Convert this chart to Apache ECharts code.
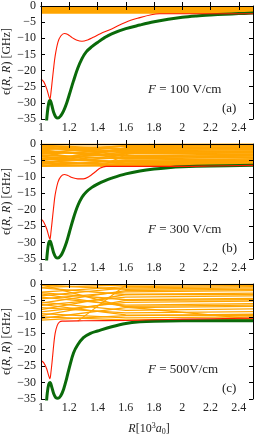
<!DOCTYPE html>
<html><head><meta charset="utf-8">
<script src="https://cdn.jsdelivr.net/npm/echarts@6/dist/echarts.min.js"></script>
<style>html,body{margin:0;padding:0;background:#fff}#c{width:255px;height:436px}</style>
</head><body><div id="c"></div>
<script>
// ---------- data ----------
const xTickValues = [1, 1.2, 1.4, 1.6, 1.8, 2, 2.2, 2.4];
const yTickValues = [0, -5, -10, -15, -20, -25, -30, -35];
const fieldValues = ['100 V/cm', '300 V/cm', '500V/cm'];
const panelTags = ['(a)', '(b)', '(c)'];

// red (thin) curves
const redA = [[1,-22.6],[1.02,-23.5],[1.04,-25.6],[1.055,-27.9],[1.063,-28.9],[1.07,-27],[1.08,-23],[1.09,-19],[1.1,-15.5],[1.12,-11.2],[1.14,-9.3],[1.165,-8.5],[1.19,-8.8],[1.22,-9.8],[1.25,-10.5],[1.29,-10.9],[1.33,-10.5],[1.37,-9.7],[1.42,-8.6],[1.5,-7.1],[1.6,-5.0],[1.7,-3.6],[1.78,-2.7],[1.84,-2.4],[2.0,-2.4],[2.5,-2.4]];
const redB = [[1,-22.8],[1.02,-23.8],[1.04,-25.8],[1.055,-28],[1.063,-29],[1.07,-27],[1.08,-23],[1.09,-19],[1.1,-15.5],[1.12,-11.6],[1.14,-9.9],[1.165,-9.3],[1.19,-9.6],[1.22,-10.2],[1.26,-10.6],[1.3,-10.6],[1.34,-9.9],[1.38,-8.6],[1.42,-7.3],[1.46,-6.8],[1.6,-6.8],[1.8,-6.8],[2.0,-6.8],[2.2,-6.7],[2.5,-6.5]];
const redC = [[1,-23.3],[1.02,-24],[1.04,-25.8],[1.055,-28],[1.063,-28.8],[1.07,-27],[1.08,-23],[1.09,-18.5],[1.1,-15],[1.115,-12.6],[1.13,-11.6],[1.15,-11.3],[1.3,-11.2],[1.6,-11.1],[1.8,-10.9],[2.0,-10.7],[2.5,-10.4]];

// green (thick) curves
const greenA = [[1.035,-38],[1.045,-33],[1.055,-30],[1.064,-29.2],[1.075,-30.5],[1.09,-33],[1.105,-34.4],[1.12,-34.7],[1.14,-34],[1.16,-32.5],[1.18,-30.3],[1.2,-27.5],[1.23,-23.2],[1.26,-19.3],[1.29,-16.3],[1.32,-14.2],[1.36,-12.6],[1.4,-11.3],[1.45,-9.8],[1.5,-8.6],[1.6,-7.0],[1.7,-5.9],[1.8,-4.9],[1.9,-4.1],[2.0,-3.5],[2.1,-3.1],[2.2,-2.8],[2.3,-2.55],[2.4,-2.35],[2.5,-2.2]];
const greenB = [[1.035,-38],[1.045,-33],[1.055,-30],[1.064,-29.5],[1.075,-30.8],[1.09,-33.2],[1.105,-34.5],[1.12,-34.7],[1.14,-34],[1.16,-32.3],[1.18,-30],[1.2,-27],[1.23,-22.5],[1.26,-18.8],[1.29,-16.2],[1.32,-14.6],[1.36,-13.2],[1.4,-12.2],[1.45,-11.2],[1.5,-10.4],[1.6,-9.1],[1.7,-8.2],[1.8,-7.6],[1.9,-7.2],[2.0,-6.95],[2.2,-6.7],[2.5,-6.5]];
const greenC = [[1.035,-38],[1.045,-33],[1.055,-30.5],[1.064,-30],[1.075,-31.2],[1.09,-33.4],[1.105,-34.6],[1.12,-34.8],[1.14,-34],[1.16,-32],[1.18,-29],[1.2,-25.5],[1.23,-21],[1.26,-18.5],[1.3,-16.3],[1.35,-15],[1.4,-14.3],[1.5,-13],[1.6,-12],[1.7,-11.5],[1.8,-11.3],[2.0,-11.2],[2.2,-11.2],[2.5,-11.2]];

// Stark manifold (orange)
const bandALevel = -2.4;
const manifoldR = [1, 1.6, 2.5];
const manifoldB = [
  [-0.2,-0.2,-0.1],[-1.6,-0.7,-0.5],[-0.4,-1.6,-1.3],[-3.0,-1.9,-1.8],[-1.2,-2.6,-2.2],
  [-4.4,-2.9,-2.7],[-2.2,-3.6,-3.1],[-5.6,-4.0,-3.6],[-3.4,-4.5,-4.0],[-6.6,-5.0,-4.5],
  [-4.6,-5.4,-4.9],[-6.0,-6.1,-5.4],[-5.2,-6.5,-5.8],[-6.7,-6.6,-6.3],[-0.8,-3.4,-6.6],[-6.2,-1.2,-0.9],
  [-2.8,-0.5,-0.3],[-5.0,-1.4,-1.0],[-0.6,-2.3,-2.5],[-1.9,-4.2,-3.4],[-3.8,-5.8,-5.1],[-2.6,-6.2,-6.0]
];
const manifoldC = [
  [-2.5,-0.8,-0.4],[-0.3,-1.6,-1.2],[-4.5,-2.4,-2.0],[-1.2,-3.2,-2.8],[-6.5,-4.0,-3.6],
  [-2.6,-4.8,-4.4],[-8.5,-5.6,-5.2],[-4.0,-6.4,-6.0],[-10.5,-7.2,-6.8],[-5.5,-8.0,-7.6],
  [-7.2,-8.8,-8.4],[-11.0,-9.6,-9.2],[-9.0,-10.3,-10.0],[-10.0,-10.9,-10.8],[-0.2,-7.0,-10.6],
  [-1.0,-0.3,-0.1],[-3.6,-1.2,-0.8],[-5.8,-2.0,-1.6],[-7.8,-3.2,-3.2],[-9.6,-5.0,-4.8],[-3.0,-6.8,-6.4],[-6.2,-9.4,-9.6]
];
const steepB = [[1.42,-6.8],[1.77,0]];
const steepC = [[1.26,-11.3],[1.61,0]];

// ---------- chart ----------
const FONT = 'Liberation Serif';
const TXT = '#222';
const ORANGE = '#FFA500';
const RED = '#FF1a00';
const GREEN = '#0a6a0a';
const tops = [4, 144, 284];
const H = 115, L = 41, W = 212;

const grid = [], xAxis = [], yAxis = [], series = [], graphic = [];
const fmtX = v => { const r = Math.round(v * 10) / 10; return String(r); };
const fmtY = v => { const r = Math.round(v); return r < 0 ? '\u2212' + (-r) : String(r); };

tops.forEach((t, i) => {
  grid.push({left: L, top: t, width: W, height: H, containLabel: false});
  const axLine = {show: true, lineStyle: {color: '#000', width: 1}};
  const tick = {show: true, inside: true, length: 4, lineStyle: {color: '#000', width: 1}};
  xAxis.push({type: 'value', gridIndex: i, min: 1, max: 2.5, interval: 0.2, position: 'bottom', z: 10,
    axisLine: axLine, axisTick: tick, splitLine: {show: false},
    axisLabel: {show: true, showMaxLabel: false, margin: 3, fontFamily: FONT, fontSize: 12, color: TXT, formatter: fmtX}});
  xAxis.push({type: 'value', gridIndex: i, min: 1, max: 2.5, interval: 0.2, position: 'top', z: 10,
    axisLine: axLine, axisTick: tick, splitLine: {show: false}, axisLabel: {show: false}});
  yAxis.push({type: 'value', gridIndex: i, min: -35, max: 0, interval: 5, position: 'left', z: 10,
    axisLine: axLine, axisTick: tick, splitLine: {show: false},
    axisLabel: {show: true, margin: 5, fontFamily: FONT, fontSize: 12, color: TXT, formatter: fmtY}});
  yAxis.push({type: 'value', gridIndex: i, min: -35, max: 0, interval: 5, position: 'right', z: 10,
    axisLine: axLine, axisTick: tick, splitLine: {show: false}, axisLabel: {show: false}});
});

const line = (i, data, color, width, z) => ({
  type: 'line', xAxisIndex: 2 * i, yAxisIndex: 2 * i, data, symbol: 'none', smooth: 0.35,
  lineStyle: {color, width}, z: z || 2, clip: true, silent: true, animation: false
});
const straight = (i, data, color, width, z) => Object.assign(line(i, data, color, width, z), {smooth: false});

// panel a band (solid)
series.push({type: 'line', xAxisIndex: 0, yAxisIndex: 0, data: [[1, bandALevel], [2.5, bandALevel]],
  symbol: 'none', lineStyle: {width: 0}, areaStyle: {color: ORANGE, opacity: 1, origin: 'end'}, z: 1, animation: false});
manifoldB.forEach(v => series.push(straight(1, manifoldR.map((r, k) => [r, v[k]]), ORANGE, 1.8, 1)));
manifoldC.forEach(v => series.push(straight(2, manifoldR.map((r, k) => [r, v[k]]), ORANGE, 1.3, 1)));
series.push(straight(1, steepB, ORANGE, 1.2, 1));
series.push(straight(2, steepC, ORANGE, 1.2, 1));

[redA, redB, redC].forEach((d, i) => series.push(line(i, d, RED, 1.1, 4)));
[greenA, greenB, greenC].forEach((d, i) => series.push(line(i, d, GREEN, 3, 3)));

tops.forEach((t, i) => {
  graphic.push({type: 'text', left: 148, top: t + 79, silent: true,
    style: {text: '{i|F} = ' + fieldValues[i], fontFamily: FONT, fontSize: 13, fill: TXT,
      rich: {i: {fontStyle: 'italic', fontFamily: FONT, fontSize: 13}}}});
  graphic.push({type: 'text', left: 222, top: t + 98, silent: true,
    style: {text: panelTags[i], fontFamily: FONT, fontSize: 13, fill: TXT}});
  graphic.push({type: 'text', x: 7, y: t + H / 2, rotation: Math.PI / 2, silent: true,
    style: {text: '\u03f5({i|R}, {i|R}) [GHz]', fontFamily: FONT, fontSize: 12, fill: TXT,
      align: 'center', verticalAlign: 'middle',
      rich: {i: {fontStyle: 'italic', fontFamily: FONT, fontSize: 12}}}});
});
graphic.push({type: 'text', x: 149, y: 429, silent: true,
  style: {text: '{i|R}[10{sup|3}{i|a}{sub|0}]', fontFamily: FONT, fontSize: 12, fill: TXT,
    align: 'center', verticalAlign: 'middle',
    rich: {i: {fontStyle: 'italic', fontFamily: FONT, fontSize: 12},
           sup: {fontFamily: FONT, fontSize: 8, padding: [0, 0, 7, 0]},
           sub: {fontFamily: FONT, fontSize: 8, padding: [5, 0, 0, 0]}}}});

const chart = echarts.init(document.getElementById('c'), null, {renderer: 'canvas'});
chart.setOption({animation: false, backgroundColor: '#fff', grid, xAxis, yAxis, series, graphic});
</script></body></html>
